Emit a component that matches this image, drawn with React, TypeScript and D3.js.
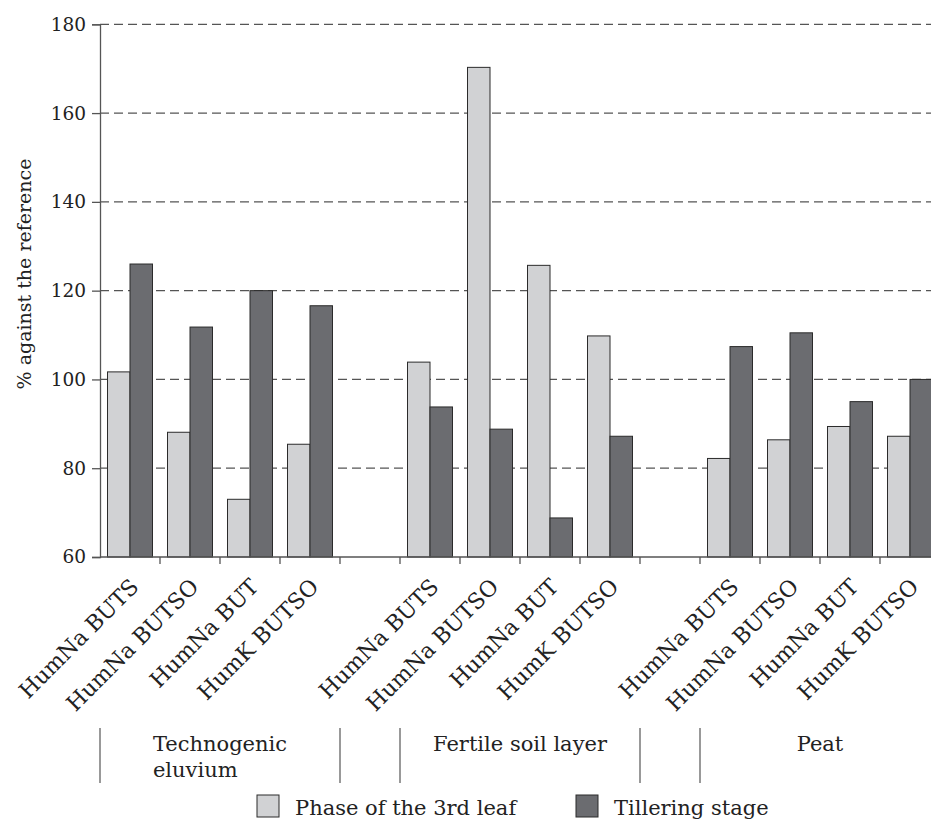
import React, { useEffect, useRef } from "react";
import * as d3 from "d3";

const treatments = ["HumNa BUTS", "HumNa BUTSO", "HumNa BUT", "HumK BUTSO"];
const groupNames = [["Technogenic", "eluvium"], ["Fertile soil layer"], ["Peat"]];
const seriesNames = ["Phase of the 3rd leaf", "Tillering stage"];
const phase3rdLeaf = [101.7, 88.1, 73.0, 85.4, 103.9, 170.3, 125.7, 109.8, 82.2, 86.4, 89.4, 87.2];
const tillering = [126.0, 111.8, 120.0, 116.6, 93.8, 88.8, 68.8, 87.2, 107.4, 110.5, 95.0, 100.0];
const yTicks = [60, 80, 100, 120, 140, 160, 180];

const W = 931;
const H = 820;
const FONT = "'DejaVu Serif', serif";
const colors = ["#d1d2d4", "#6b6c70"];

export default function App() {
  const ref = useRef<SVGSVGElement | null>(null);

  useEffect(() => {
    const svg = d3.select(ref.current);
    svg.selectAll("*").remove();

    const slots: { key: string; g: number; t: number; i: number }[] = [];
    groupNames.forEach((_, g) => {
      treatments.forEach((t, ti) => {
        slots.push({ key: `${g}-${ti}`, g, t: ti, i: g * 4 + ti });
      });
      if (g < groupNames.length - 1) slots.push({ key: `gap-${g}`, g: -1, t: -1, i: -1 });
    });

    const x = d3.scaleBand<string>().domain(slots.map((s) => s.key)).range([100, 940]).padding(0);
    const xi = d3.scaleBand<string>().domain(["a", "b"]).range([7.5, 52.5]).padding(0);
    const y = d3.scaleLinear().domain([60, 180]).range([557, 24.3]);

    svg.append("g")
      .selectAll("line")
      .data(yTicks.filter((v) => v > 60))
      .join("line")
      .attr("x1", 100)
      .attr("x2", W)
      .attr("y1", (d) => y(d))
      .attr("y2", (d) => y(d))
      .attr("stroke", "#555")
      .attr("stroke-width", 1.3)
      .attr("stroke-dasharray", "9 5");

    const data = slots.filter((s) => s.i >= 0);
    const bg = svg.append("g");
    data.forEach((s) => {
      const vals = [phase3rdLeaf[s.i], tillering[s.i]];
      ["a", "b"].forEach((k, j) => {
        bg.append("rect")
          .attr("x", (x(s.key) as number) + (xi(k) as number))
          .attr("y", y(vals[j]))
          .attr("width", xi.bandwidth())
          .attr("height", y(60) - y(vals[j]))
          .attr("fill", colors[j])
          .attr("stroke", "#2b2b2b")
          .attr("stroke-width", 1);
      });
    });

    const yAxis = d3.axisLeft(y).tickValues(yTicks).tickSize(8).tickPadding(6).tickFormat(d3.format("d"));
    const ya = svg.append("g").attr("transform", "translate(100,0)").call(yAxis);
    ya.select(".domain").attr("stroke", "#555").attr("stroke-width", 1.3);
    ya.selectAll(".tick line").attr("stroke", "#555").attr("stroke-width", 1.3);
    ya.selectAll(".tick text").attr("font-family", FONT).attr("font-size", 18.5).attr("fill", "#222");

    const xa = svg.append("g").attr("transform", "translate(0,557)");
    xa.append("line").attr("x1", 100).attr("x2", W).attr("stroke", "#555").attr("stroke-width", 1.3);
    xa.selectAll("line.tk")
      .data(slots.slice(1))
      .join("line")
      .attr("class", "tk")
      .attr("x1", (d) => x(d.key) as number)
      .attr("x2", (d) => x(d.key) as number)
      .attr("y1", 0)
      .attr("y2", 7)
      .attr("stroke", "#555")
      .attr("stroke-width", 1.3);

    svg.append("g")
      .selectAll("text")
      .data(data)
      .join("text")
      .attr("transform", (d) => `translate(${(x(d.key) as number) + x.bandwidth() / 2 + 10},588) rotate(-45)`)
      .attr("text-anchor", "end")
      .attr("font-family", FONT)
      .attr("font-size", 22)
      .attr("fill", "#222")
      .text((d) => treatments[d.t]);

    const seps: number[] = [];
    slots.forEach((s) => {
      if (s.i < 0) {
        seps.push(x(s.key) as number);
        seps.push((x(s.key) as number) + x.bandwidth());
      }
    });
    seps.unshift(100);
    svg.append("g")
      .selectAll("line")
      .data(seps)
      .join("line")
      .attr("x1", (d) => d)
      .attr("x2", (d) => d)
      .attr("y1", 728)
      .attr("y2", 783)
      .attr("stroke", "#555")
      .attr("stroke-width", 1.2);

    groupNames.forEach((lines, g) => {
      const first = slots.find((s) => s.g === g && s.t === 0)!;
      const last = slots.find((s) => s.g === g && s.t === 3)!;
      const cx = ((x(first.key) as number) + (x(last.key) as number) + x.bandwidth()) / 2;
      const t = svg.append("text").attr("font-family", FONT).attr("font-size", 21).attr("fill", "#222");
      lines.forEach((ln, li) => {
        t.append("tspan").attr("x", cx).attr("y", 751 + li * 26).text(ln);
      });
      const widths = t.selectAll<SVGTSpanElement, unknown>("tspan").nodes().map((n) => n.getComputedTextLength());
      const maxW = Math.max(...widths);
      t.selectAll("tspan").attr("x", cx - maxW / 2);
    });

    const legendX = [257, 576];
    seriesNames.forEach((name, j) => {
      svg.append("rect")
        .attr("x", legendX[j])
        .attr("y", 795)
        .attr("width", 22)
        .attr("height", 22)
        .attr("fill", colors[j])
        .attr("stroke", "#2b2b2b")
        .attr("stroke-width", 1);
      svg.append("text")
        .attr("x", legendX[j] + 38)
        .attr("y", 815)
        .attr("font-family", FONT)
        .attr("font-size", 21)
        .attr("fill", "#222")
        .text(name);
    });

    svg.append("text")
      .attr("transform", "translate(31,274) rotate(-90)")
      .attr("text-anchor", "middle")
      .attr("font-family", FONT)
      .attr("font-size", 19)
      .attr("fill", "#222")
      .text("% against the reference");
  }, []);

  return (
    <svg
      ref={ref}
      width={W}
      height={H}
      style={{ position: "absolute", left: 0, top: 0, background: "#fff" }}
    />
  );
}
